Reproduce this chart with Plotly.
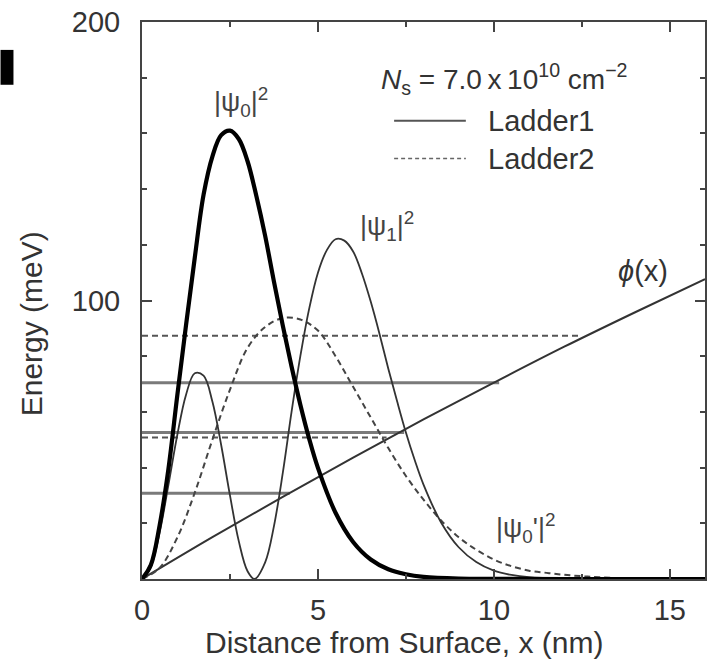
import plotly.graph_objects as go

# ---- data (energies in meV, distances in nm) ----
psi0_x = [0, 0.25, 0.5, 0.75, 1.0, 1.25, 1.5, 1.75, 2.0, 2.25, 2.5, 2.75, 3.0,
          3.25, 3.5, 3.75, 4.0, 4.25, 4.5, 4.75, 5.0, 5.5, 6.0, 6.5, 7.0, 7.5,
          8.0, 9.0, 10.0, 12.0, 16.0]
psi0_y = [0, 5.0, 19.2, 39.4, 65.6, 91.0, 115.4, 138.0, 151.7, 159.4, 161.0,
          158.0, 150.0, 137.5, 123.2, 106.8, 91.1, 76.3, 62.6, 50.4, 39.9, 23.8,
          13.3, 7.0, 3.5, 1.7, 0.76, 0.14, 0.03, 0, 0]

psi1_x = [0, 0.25, 0.5, 0.75, 1.0, 1.25, 1.5, 1.75, 2.0, 2.25, 2.5, 2.75, 3.0,
          3.2, 3.5, 3.75, 4.0, 4.25, 4.5, 4.75, 5.0, 5.25, 5.5, 5.75, 6.0, 6.25,
          6.5, 6.75, 7.0, 7.25, 7.5, 7.75, 8.0, 8.5, 9.0, 9.5, 10.0, 10.5, 11.0,
          12.0, 13.0, 16.0]
psi1_y = [0, 4.4, 16.6, 33.7, 51.5, 66.1, 73.9, 73.0, 63.7, 48.1, 30.0, 13.6,
          2.8, 0, 6.0, 19.0, 38.0, 60.0, 80.0, 97.0, 110.0, 118.0, 122.0, 121.5,
          117.6, 109.7, 99.6, 88.0, 75.5, 63.8, 52.6, 42.7, 33.9, 20.3, 11.4,
          6.1, 3.0, 1.44, 0.63, 0.12, 0.02, 0]

psi0p_x = [0, 0.5, 1.0, 1.5, 2.0, 2.5, 3.0, 3.5, 4.0, 4.5, 5.0, 5.5, 6.0, 6.5,
           7.0, 7.5, 8.0, 8.5, 9.0, 9.5, 10.0, 10.5, 11.0, 11.5, 12.0, 12.5,
           13.0, 14.0, 15.0, 16.0]
psi0p_y = [0, 4.0, 14.8, 31.0, 50.0, 68.0, 83.0, 90.5, 93.7, 93.2, 89.2, 80.0,
           69.0, 58.0, 47.0, 37.0, 28.5, 21.0, 15.0, 10.5, 7.0, 4.6, 3.0, 2.2,
           1.5, 1.0, 0.6, 0.2, 0.05, 0]

phi_x = [0, 2, 4, 6, 8, 10, 12, 14, 16]
phi_y = [0, 15.0, 29.5, 43.6, 57.3, 70.5, 83.4, 95.7, 107.7]

ladder1_levels = [30.8, 52.6, 70.5]
ladder1_ends = [4.2, 7.45, 10.15]
ladder2_levels = [50.8, 87.3]
ladder2_ends = [6.95, 12.5]

x_tick_vals = [0, 5, 10, 15]
y_tick_vals = [0, 100, 200]
y_tick_text = ["", "100", "200"]

FONT = "Liberation Sans"
INK = "#333333"

fig = go.Figure()

# energy levels of the two ladders
for lev, end in zip(ladder1_levels, ladder1_ends):
    fig.add_trace(go.Scatter(x=[0, end], y=[lev, lev], mode="lines",
                             line=dict(color="#7a7a7a", width=3),
                             showlegend=False, hoverinfo="skip"))
for lev, end in zip(ladder2_levels, ladder2_ends):
    fig.add_trace(go.Scatter(x=[0, end], y=[lev, lev], mode="lines",
                             line=dict(color="#555555", width=2, dash="6px,4px"),
                             showlegend=False, hoverinfo="skip"))

# potential
fig.add_trace(go.Scatter(x=phi_x, y=phi_y, mode="lines", line_shape="spline",
                         line=dict(color=INK, width=2), showlegend=False))
# wavefunctions
fig.add_trace(go.Scatter(x=psi0p_x, y=psi0p_y, mode="lines", line_shape="spline",
                         line=dict(color="#444444", width=2, dash="6px,4px"),
                         showlegend=False))
fig.add_trace(go.Scatter(x=psi1_x, y=psi1_y, mode="lines", line_shape="spline",
                         line=dict(color=INK, width=1.8), showlegend=False))
fig.add_trace(go.Scatter(x=psi0_x, y=psi0_y, mode="lines", line_shape="spline",
                         line=dict(color="#000000", width=4.2), showlegend=False))

axis_common = dict(
    showline=True, linecolor="#444444", linewidth=2, mirror="allticks",
    ticks="inside", ticklen=10, tickwidth=1.5, tickcolor="#444444",
    showgrid=False, zeroline=False,
    tickfont=dict(family=FONT, size=29, color=INK),
)

fig.update_xaxes(range=[0, 16], tickmode="array", tickvals=x_tick_vals,
                 minor=dict(tickmode="linear", tick0=0, dtick=2.5, ticks="inside",
                            ticklen=5, tickcolor="#444444", tickwidth=1.5),
                 ticklabelstandoff=4, **axis_common)
fig.update_yaxes(range=[0, 200], tickmode="array", tickvals=y_tick_vals,
                 ticktext=y_tick_text,
                 minor=dict(tickmode="linear", tick0=0, dtick=20, ticks="inside",
                            ticklen=5, tickcolor="#444444", tickwidth=1.5),
                 ticklabelstandoff=14, **axis_common)


def note(**kw):
    kw.setdefault("showarrow", False)
    kw.setdefault("xanchor", "center")
    kw.setdefault("yanchor", "middle")
    return kw


ann = []
# axis titles
ann.append(note(xref="paper", yref="paper", x=-0.1947, y=0.458, textangle=-90,
                text="Energy (meV)",
                font=dict(family=FONT, size=30, color=INK)))
ann.append(note(xref="paper", yref="paper", x=0.4655, y=-0.1145,
                text="Distance from Surface, x (nm)",
                font=dict(family=FONT, size=30, color=INK)))
# curve labels
lab_font = dict(family=FONT, size=27, color="#444444")
ann.append(note(x=2.82, y=171.4, text="|ψ<sub>0</sub>|<sup>2</sup>", font=lab_font))
ann.append(note(x=6.96, y=126.7, text="|ψ<sub>1</sub>|<sup>2</sup>", font=lab_font))
ann.append(note(x=10.9, y=18.2, text="|ψ<sub>0</sub>'|<sup>2</sup>", font=lab_font))
ann.append(note(x=14.25, y=110.5, text="<i>ϕ</i>(x)",
                font=dict(family=FONT, size=29, color=INK)))
# carrier density
ann.append(note(xref="paper", yref="paper", x=0.6425, y=0.898,
                text="<i>N</i><sub>s</sub> = 7.0\u2009x\u200910<sup>10</sup> cm<sup>\u22122</sup>",
                font=dict(family=FONT, size=28, color=INK)))
# legend texts
ann.append(note(xref="paper", yref="paper", x=0.6106, y=0.8229, xanchor="left",
                text="Ladder1", font=dict(family=FONT, size=29, color=INK)))
ann.append(note(xref="paper", yref="paper", x=0.6106, y=0.7549, xanchor="left",
                text="Ladder2", font=dict(family=FONT, size=29, color=INK)))

shapes = [
    # legend samples
    dict(type="line", xref="paper", yref="paper", x0=0.4478, x1=0.5752,
         y0=0.8229, y1=0.8229, line=dict(color="#555555", width=2)),
    dict(type="line", xref="paper", yref="paper", x0=0.4478, x1=0.5752,
         y0=0.7549, y1=0.7549, line=dict(color="#666666", width=1.5, dash="4px,3px")),
    # edge of the panel letter
    dict(type="rect", xref="paper", yref="paper", x0=-0.2513, x1=-0.2283,
         y0=0.8873, y1=0.9499, fillcolor="#000000", line=dict(width=0)),
]

fig.update_layout(
    width=713, height=665,
    margin=dict(l=142, r=6, t=20, b=86),
    paper_bgcolor="white", plot_bgcolor="white",
    annotations=ann, shapes=shapes, showlegend=False,
    font=dict(family=FONT, color=INK),
)

fig.write_html("out.html")
